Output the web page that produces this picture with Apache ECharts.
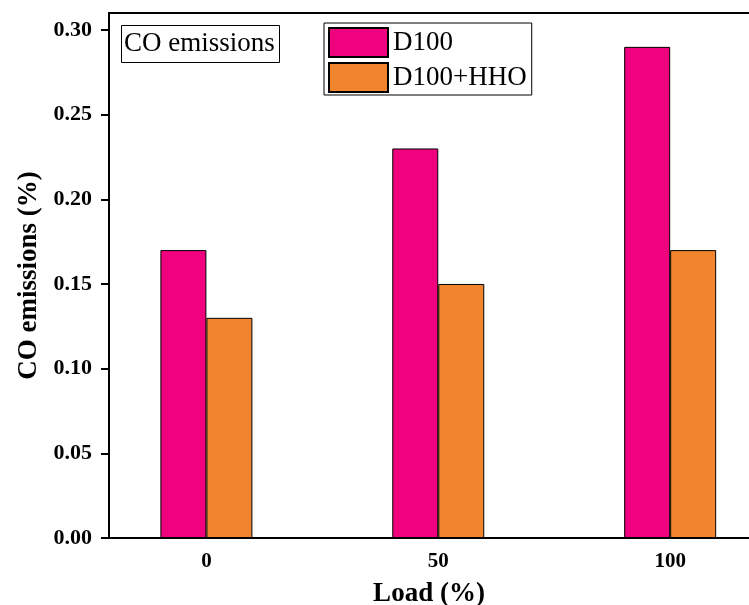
<!DOCTYPE html>
<html>
<head>
<meta charset="utf-8">
<script src="https://cdn.jsdelivr.net/npm/echarts@6/dist/echarts.min.js"></script>
<style>
  html, body { margin: 0; padding: 0; background: #fff; }
  #chart { width: 749px; height: 605px; }
</style>
</head>
<body>
<div id="chart"></div>
<script>
// loads (%) and CO emissions (%)
var loads = [0, 50, 100]
var d100 = [0.17, 0.23, 0.29]
var d100hho = [0.13, 0.15, 0.17]
var yTicks = [0, 0.05, 0.10, 0.15, 0.20, 0.25, 0.30]

var serif = 'Liberation Serif, Times New Roman, serif'

function pairs(vals) {
  return loads.map(function (l, i) { return [l, vals[i]] })
}

var chart = echarts.init(document.getElementById('chart'))
chart.setOption({
  animation: false,
  backgroundColor: '#fff',
  title: {
    text: 'CO emissions',
    left: 121,
    top: 25,
    padding: [4, 5, 4, 3],
    borderColor: '#000',
    borderWidth: 1,
    textStyle: {
      fontFamily: serif,
      fontWeight: 'normal',
      fontSize: 27,
      lineHeight: 30,
      color: '#000'
    }
  },
  legend: {
    orient: 'vertical',
    left: 324,
    top: 23,
    padding: [4, 5, 2, 4],
    borderColor: '#000',
    borderWidth: 1,
    itemWidth: 59,
    itemHeight: 29,
    itemGap: 4,
    icon: 'rect',
    textStyle: { fontFamily: serif, fontSize: 27, color: '#000' },
    data: ['D100', 'D100+HHO']
  },
  grid: { left: 109, right: 0, top: 13, bottom: 67, outerBoundsMode: 'none' },
  xAxis: [{
    type: 'value',
    min: -21,
    max: 117,
    splitLine: { show: false },
    axisLine: { onZero: false, lineStyle: { color: '#000', width: 2 } },
    axisTick: { show: false },
    axisLabel: {
      customValues: loads,
      margin: 13,
      fontFamily: serif,
      fontWeight: 'bold',
      fontSize: 21,
      color: '#000'
    },
    name: 'Load (%)',
    nameLocation: 'middle',
    nameGap: 43,
    nameTextStyle: { fontFamily: serif, fontWeight: 'bold', fontSize: 27, color: '#000' }
  }, {
    type: 'value',
    position: 'top',
    min: -21,
    max: 117,
    splitLine: { show: false },
    axisLine: { onZero: false, lineStyle: { color: '#000', width: 2 } },
    axisTick: { show: false },
    axisLabel: { show: false }
  }],
  yAxis: {
    type: 'value',
    min: 0,
    max: 0.31,
    interval: 0.05,
    splitLine: { show: false },
    axisLine: { show: true, onZero: false, lineStyle: { color: '#000', width: 2 } },
    axisTick: { customValues: yTicks, length: 8, lineStyle: { color: '#000', width: 2 } },
    axisLabel: {
      customValues: yTicks,
      margin: 17,
      formatter: function (v) { return v.toFixed(2) },
      fontFamily: serif,
      fontWeight: 'bold',
      fontSize: 22,
      color: '#000'
    },
    name: 'CO emissions (%)',
    nameLocation: 'middle',
    nameGap: 65,
    nameTextStyle: { fontFamily: serif, fontWeight: 'bold', fontSize: 27, color: '#000' }
  },
  series: [{
    name: 'D100',
    type: 'bar',
    barWidth: 46,
    barGap: '0%',
    itemStyle: { color: '#F0027F', borderColor: '#000', borderWidth: 1 },
    data: pairs(d100)
  }, {
    name: 'D100+HHO',
    type: 'bar',
    barWidth: 46,
    barGap: '0%',
    itemStyle: { color: '#F0852D', borderColor: '#000', borderWidth: 1 },
    data: pairs(d100hho)
  }]
})
</script>
</body>
</html>
